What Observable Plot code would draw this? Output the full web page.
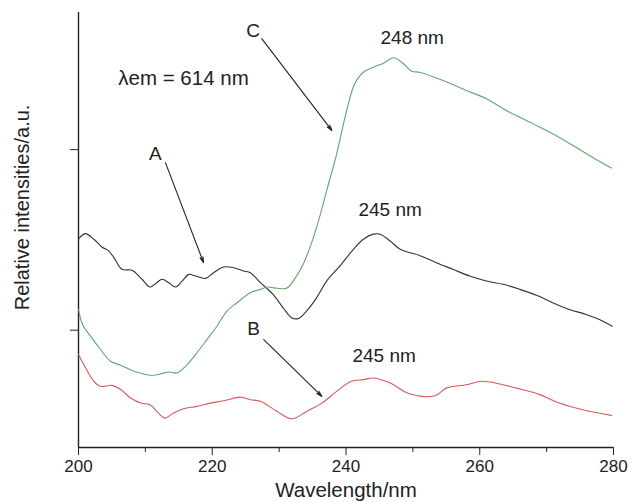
<!DOCTYPE html>
<html>
<head>
<meta charset="utf-8">
<script src="https://cdn.jsdelivr.net/npm/d3@7"></script>
<script src="https://cdn.jsdelivr.net/npm/@observablehq/plot@0.6"></script>
<style>
  html, body { margin: 0; padding: 0; background: #fff; }
  #chart svg { display: block; }
</style>
</head>
<body>
<div id="chart"></div>
<script>
// Curve A (black)
const wavelengthA = [200.0,201.0,202.3,203.5,204.5,205.3,206.5,208.0,209.5,210.7,211.7,212.5,213.5,214.5,215.5,216.5,217.5,219.0,220.2,221.7,223.2,224.7,225.7,227.2,229.1,230.6,231.9,232.9,234.1,235.6,237.1,239.1,241.1,242.6,244.1,245.1,246.6,248.1,249.6,251.0,253.5,256.0,258.5,261.0,263.5,266.0,268.5,270.9,273.4,275.9,277.9,279.8];
const intensityA = [150.4,153.5,150.4,146.1,143.9,140.2,133.7,133.2,128.2,123.9,126.3,128.2,126.3,123.9,127.2,130.9,130.0,128.7,131.8,135.0,134.6,132.8,131.8,126.3,119.8,112.4,106.8,106.5,110.6,117.9,127.2,135.6,144.8,150.4,153.2,153.2,149.4,144.8,142.9,141.4,137.4,133.7,130.0,127.2,125.4,122.6,119.3,115.2,111.5,108.7,105.9,102.2];

// Curve B (red)
const wavelengthB = [200.0,200.8,202.3,203.3,205.0,206.3,207.8,209.3,210.7,211.7,212.9,214.2,215.7,217.7,219.7,221.7,224.2,225.7,227.2,229.7,231.9,234.1,236.4,238.6,240.8,242.6,244.1,246.6,249.6,253.3,255.0,258.0,260.3,263.0,265.5,269.0,271.9,275.4,279.7];
const intensityB = [86.5,80.9,71.7,68.9,69.4,67.1,62.4,59.6,58.7,55.0,51.3,54.1,56.5,57.8,59.6,60.9,62.9,61.5,60.6,55.0,50.9,55.0,59.6,66.1,71.7,72.6,73.5,70.7,64.6,63.7,67.9,69.8,71.7,70.2,67.9,64.3,59.6,55.9,52.8];

// Curve C (green)
const wavelengthC = [200.0,200.6,201.8,203.3,204.8,206.3,208.3,210.7,212.2,213.5,214.7,216.0,217.5,219.2,220.7,222.2,223.7,225.7,227.2,228.2,229.7,231.1,232.1,233.6,235.1,236.1,237.1,238.6,240.1,241.3,242.6,244.1,245.6,247.1,248.6,249.8,251.0,254.5,258.0,261.0,264.0,268.0,271.9,274.4,276.9,279.7];
const intensityC = [111.5,103.2,96.7,89.3,82.8,80.6,77.2,75.0,75.7,76.8,76.3,80.0,86.5,94.8,102.2,110.6,115.2,120.7,122.6,123.9,123.2,123.2,127.2,136.5,151.1,163.3,177.2,197.6,221.7,236.5,242.9,245.7,247.9,250.9,247.6,243.5,242.9,238.3,232.8,228.2,221.7,214.3,206.8,201.3,195.7,189.8];

const xTicks = [200, 220, 240, 260, 280];
const xMinorTicks = [210, 230, 250, 270];
const yTicks = [100, 200];

const labels = ["A", "B", "C", "248 nm", "245 nm", "245 nm"];
const labelX = [211.5, 226.2, 226.1, 249.9, 246.6, 245.7];
const labelY = [197.8, 100.8, 266.0, 262.2, 166.9, 85.8];

const emissionLabel = "λem = 614 nm";
const emissionX = 215.7;
const emissionY = 239.4;

const xTitle = "Wavelength/nm";
const yTitle = "Relative intensities/a.u.";

const arrowX1 = [213.0, 227.7, 227.4];
const arrowY1 = [192.8, 94.8, 261.5];
const arrowX2 = [218.7, 236.4, 237.9];
const arrowY2 = [137.4, 63.3, 210.6];

const series = [
  {name: "A", xs: wavelengthA, ys: intensityA, color: "#333333"},
  {name: "B", xs: wavelengthB, ys: intensityB, color: "#d45a5a"},
  {name: "C", xs: wavelengthC, ys: intensityC, color: "#5fa870"}
];
const lineData = series.flatMap(s => s.xs.map((x, i) => ({series: s.name, x, y: s.ys[i], color: s.color})));
const labelData = labels.map((t, i) => ({t, x: labelX[i], y: labelY[i]}));
const arrowData = arrowX1.map((x1, i) => ({x1, y1: arrowY1[i], x2: arrowX2[i], y2: arrowY2[i]}));

const chart = Plot.plot({
  width: 632,
  height: 502,
  marginLeft: 78,
  marginRight: 19,
  marginTop: 12,
  marginBottom: 55,
  style: {fontFamily: "'Liberation Sans', Arial, sans-serif", color: "#222", background: "#fff"},
  x: {domain: [200, 280]},
  y: {domain: [35, 276]},
  marks: [
    Plot.axisX({ticks: xTicks, tickSize: 8, tickPadding: 4, fontSize: 17, label: null, stroke: "#222"}),
    Plot.axisX({ticks: xMinorTicks, tickSize: 5, tickFormat: () => "", label: null, stroke: "#222"}),
    Plot.axisY({ticks: yTicks, tickSize: 8, tickFormat: () => "", label: null, stroke: "#222"}),
    Plot.ruleY([35], {stroke: "#222", strokeWidth: 1.4}),
    Plot.ruleX([200], {stroke: "#222", strokeWidth: 1.4}),
    Plot.line(lineData, {x: "x", y: "y", z: "series", stroke: "color", strokeWidth: 1.1, curve: "catmull-rom"}),
    Plot.arrow(arrowData, {x1: "x1", y1: "y1", x2: "x2", y2: "y2", stroke: "#222", strokeWidth: 1.1, headLength: 8, headAngle: 30}),
    Plot.text(labelData, {x: "x", y: "y", text: "t", fontSize: 19, fill: "#222", lineAnchor: "middle"}),
    Plot.text([emissionLabel], {x: emissionX, y: emissionY, text: d => d, fontSize: 20.5, fill: "#222", lineAnchor: "middle"}),
    Plot.text([xTitle], {x: 240, y: 35, text: d => d, dy: 43, fontSize: 20.5, fill: "#222", lineAnchor: "middle"}),
    Plot.text([yTitle], {x: 200, y: 168, text: d => d, rotate: -90, dx: -56, fontSize: 20, fill: "#222", lineAnchor: "middle"})
  ]
});
document.getElementById("chart").appendChild(chart);
</script>
</body>
</html>
